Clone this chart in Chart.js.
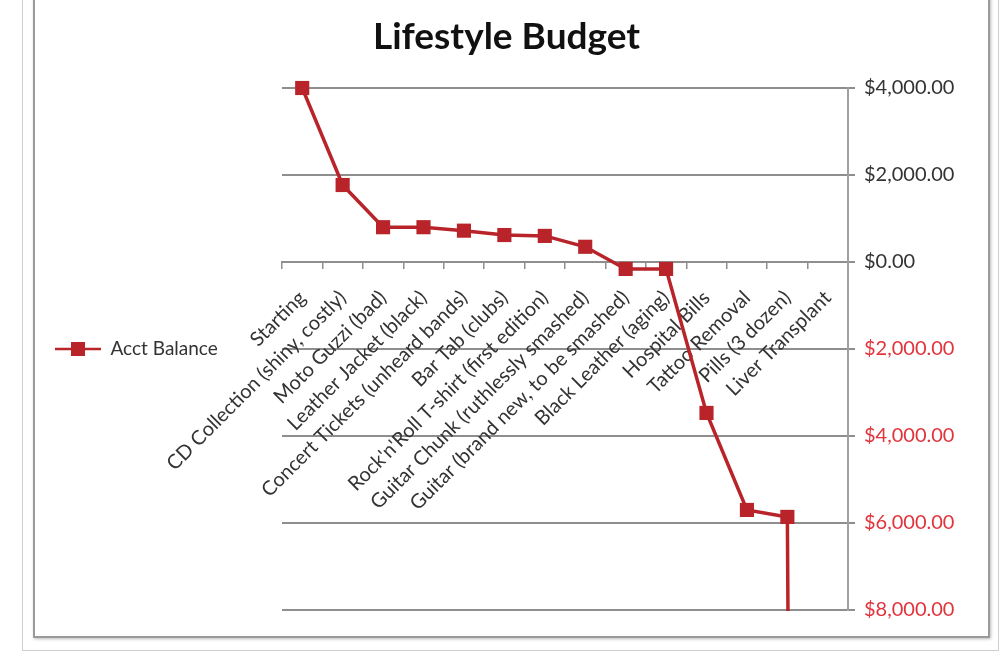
<!DOCTYPE html>
<html>
<head>
<meta charset="utf-8">
<script src="https://cdn.jsdelivr.net/npm/chart.js@4"></script>
<style>
  html, body { margin: 0; padding: 0; background: #fff; }
  #wrap { position: relative; width: 1000px; height: 653px; overflow: hidden; }
  .frame-out { position: absolute; left: 22px; top: -10px; width: 975px; height: 659px; border: 1px solid #cfcfcf; }
  .frame-in { position: absolute; left: 33px; top: -10px; width: 953px; height: 644px; border: 2px solid #9a9a9a; box-shadow: 1px 1px 3px #bbb; }
  canvas { position: absolute; left: 0; top: 0; }
</style>
</head>
<body>
<div id="wrap">
  <div class="frame-out"></div>
  <div class="frame-in"></div>
  <canvas id="chart" width="1000" height="653"></canvas>
</div>
<script>
const categories = [
  'Starting',
  'CD Collection (shiny, costly)',
  'Moto Guzzi (bad)',
  'Leather Jacket (black)',
  'Concert Tickets (unheard bands)',
  'Bar Tab (clubs)',
  "Rock'n'Roll T-shirt (first edition)",
  'Guitar Chunk (ruthlessly smashed)',
  'Guitar (brand new, to be smashed)',
  'Black Leather (aging)',
  'Hospital Bills',
  'Tattoo Removal',
  'Pills (3 dozen)',
  'Liver Transplant'
];
const acctBalance = [4000, 1770, 800, 800, 720, 620, 600, 350, -160, -160, -3470, -5700, -5860, -150000];
const yTicks = [4000, 2000, 0, -2000, -4000, -6000, -8000];

const lineRed = '#b8242a';
const gridGray = '#8e8e8e';
const fontFamily = 'Lato, "Open Sans", sans-serif';

// legend marker: line with a square on it
const marker = document.createElement('canvas');
marker.width = 46; marker.height = 16;
(function () {
  const c = marker.getContext('2d');
  c.strokeStyle = lineRed; c.lineWidth = 2.5;
  c.beginPath(); c.moveTo(0, 8); c.lineTo(46, 8); c.stroke();
  c.fillStyle = lineRed; c.fillRect(16, 1, 14, 14);
})();

// keep a gap between the legend and the plot, like Excel does
const legendGap = {
  id: 'legendGap',
  beforeLayout(chart) {
    const lg = chart.legend;
    if (lg && !lg._gapFit) {
      const fit = lg.fit;
      lg.fit = function () { fit.call(this); this.width = 237; };
      lg._gapFit = true;
    }
  }
};

const money = v => '$' + Math.abs(v).toLocaleString('en-US', { minimumFractionDigits: 2, maximumFractionDigits: 2 });

new Chart(document.getElementById('chart'), {
  type: 'line',
  data: {
    labels: categories,
    datasets: [{
      label: 'Acct Balance',
      data: acctBalance,
      yAxisID: 'y',
      borderColor: lineRed,
      backgroundColor: lineRed,
      borderWidth: 3.5,
      tension: 0,
      pointStyle: 'rect',
      pointRadius: 10,
      pointBorderWidth: 0,
      pointBackgroundColor: lineRed,
      clip: { left: 12, top: 12, right: 12, bottom: 1 }
    }]
  },
  plugins: [legendGap],
  options: {
    responsive: false,
    animation: false,
    layout: { padding: { left: 45, right: 32, top: 8, bottom: 43 } },
    plugins: {
      title: {
        display: true,
        text: 'Lifestyle Budget',
        color: '#111',
        font: { family: fontFamily, size: 37, weight: 'bold' },
        padding: { top: 7, bottom: 28.6 }
      },
      legend: {
        position: 'left',
        fullSize: false,
        labels: {
          usePointStyle: true,
          pointStyle: marker,
          pointStyleWidth: 46,
          padding: 10,
          color: '#333',
          font: { family: fontFamily, size: 19 }
        }
      },
      tooltip: { enabled: false }
    },
    scales: {
      x: {
        position: { y: 0 },
        offset: true,
        grid: { drawOnChartArea: false, drawTicks: true, tickLength: 6, color: gridGray, lineWidth: 1.5, offset: true },
        border: { display: true, color: gridGray, width: 2 },
        ticks: {
          autoSkip: false, minRotation: 45, maxRotation: 45, padding: 18,
          color: '#333', font: { family: fontFamily, size: 20 }
        }
      },
      y: {
        position: 'right',
        min: -8000, max: 4000,
        afterBuildTicks(s) { s.ticks = yTicks.map(v => ({ value: v })); },
        afterFit(s) { s.width = 120; },
        grid: { color: gridGray, lineWidth: 2, tickLength: 7 },
        border: { display: true, color: '#a0a0a0', width: 2 },
        ticks: {
          padding: 9,
          callback: v => money(v),
          color: c => (c.tick && c.tick.value < 0) ? '#e2343c' : '#333',
          font: { family: fontFamily, size: 20 }
        }
      }
    }
  }
});
</script>
</body>
</html>
